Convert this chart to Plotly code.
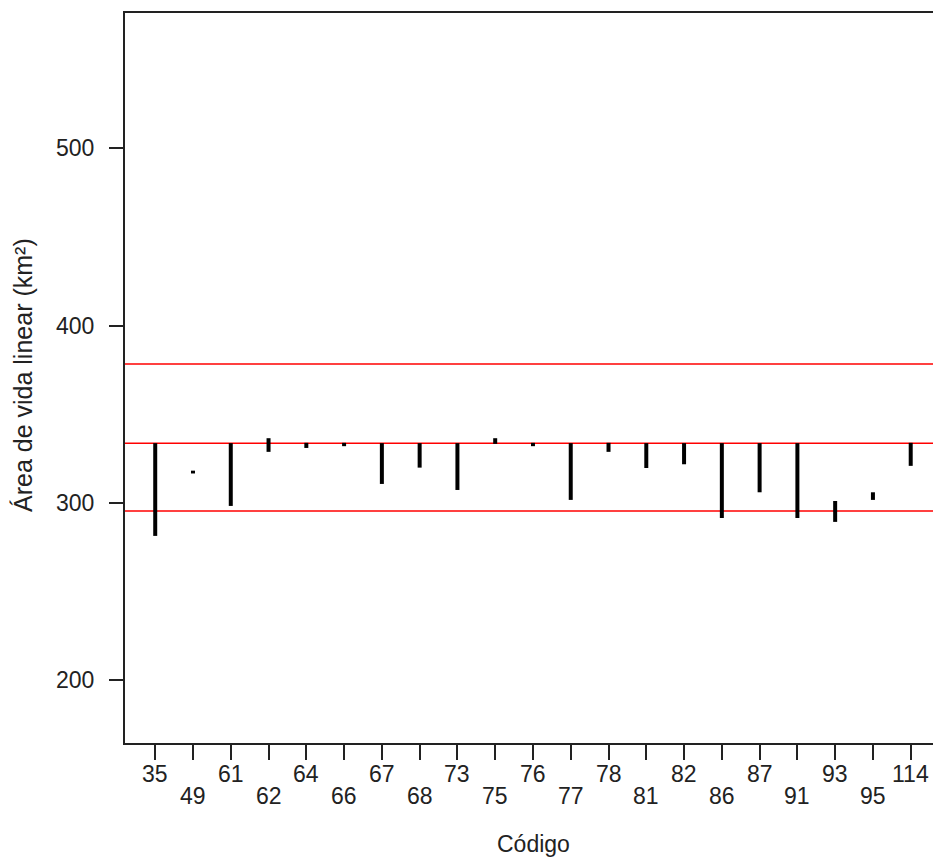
import plotly.graph_objects as go

codes = ["35", "49", "61", "62", "64", "66", "67", "68", "73", "75", "76",
         "77", "78", "81", "82", "86", "87", "91", "93", "95", "114"]
seg_low = [281.4, 316.6, 298.3, 328.8, 331.0, 332.0, 310.7, 319.9, 307.3, 333.3, 332.0,
           301.7, 328.8, 319.7, 321.8, 291.5, 306.0, 291.5, 289.3, 301.7, 320.9]
seg_high = [333.7, 318.2, 333.7, 336.5, 333.9, 333.9, 333.7, 333.7, 333.7, 336.5, 333.9,
            333.7, 333.9, 333.7, 333.7, 333.7, 333.7, 333.7, 301.1, 306.0, 333.9]
ref_lines = [378.3, 333.7, 295.4]
y_ticks = [200, 300, 400, 500]

FONT = "Liberation Sans, Arial, sans-serif"
FS = 23

xs, ys = [], []
for i, (lo, hi) in enumerate(zip(seg_low, seg_high)):
    xs += [i + 1, i + 1, None]
    ys += [lo, hi, None]

fig = go.Figure()
fig.add_trace(go.Scatter(x=xs, y=ys, mode="lines",
                         line=dict(color="black", width=4),
                         showlegend=False, hoverinfo="skip"))

for v in ref_lines:
    fig.add_shape(type="line", xref="paper", x0=0, x1=1, yref="y", y0=v, y1=v,
                  line=dict(color="red", width=1.5), layer="below")

annotations = []
for i, c in enumerate(codes):
    annotations.append(dict(x=i + 1, xref="x", y=0, yref="paper", text=c,
                            showarrow=False, xanchor="center", yanchor="middle",
                            yshift=-31 if i % 2 == 0 else -53,
                            font=dict(family=FONT, size=FS, color="#222")))
annotations.append(dict(x=0.5, xref="paper", y=0, yref="paper", text="Código",
                        showarrow=False, xanchor="center", yanchor="middle",
                        xshift=4, yshift=-101,
                        font=dict(family=FONT, size=FS, color="#222")))
annotations.append(dict(x=0, xref="paper", y=0.5, yref="paper",
                        text="Área de vida linear (km²)", textangle=-90,
                        showarrow=False, xanchor="center", yanchor="middle",
                        xshift=-102, yshift=3,
                        font=dict(family=FONT, size=25, color="#222")))

fig.update_layout(
    width=933, height=858,
    margin=dict(l=124.5, r=0, t=12.7, b=115.3),
    plot_bgcolor="white", paper_bgcolor="white",
    annotations=annotations,
    xaxis=dict(range=[0.2, 21.59], tickvals=list(range(1, 22)), showticklabels=False,
               ticks="outside", ticklen=15, tickwidth=1.5, tickcolor="#222",
               showline=True, linecolor="#222", linewidth=2, mirror=True,
               showgrid=False, zeroline=False),
    yaxis=dict(range=[164.6, 576.3], tickvals=y_ticks,
               ticks="outside", ticklen=14, tickwidth=1.5, tickcolor="#222",
               ticklabelstandoff=10,
               tickfont=dict(family=FONT, size=FS, color="#222"),
               showline=True, linecolor="#222", linewidth=2, mirror=False,
               showgrid=False, zeroline=False),
)

fig.write_html(
    "out.html",
    config={"displayModeBar": False},
    post_script="document.documentElement.style.margin='0';"
                "document.body.style.margin='0';"
                "document.body.style.overflow='hidden';",
)
